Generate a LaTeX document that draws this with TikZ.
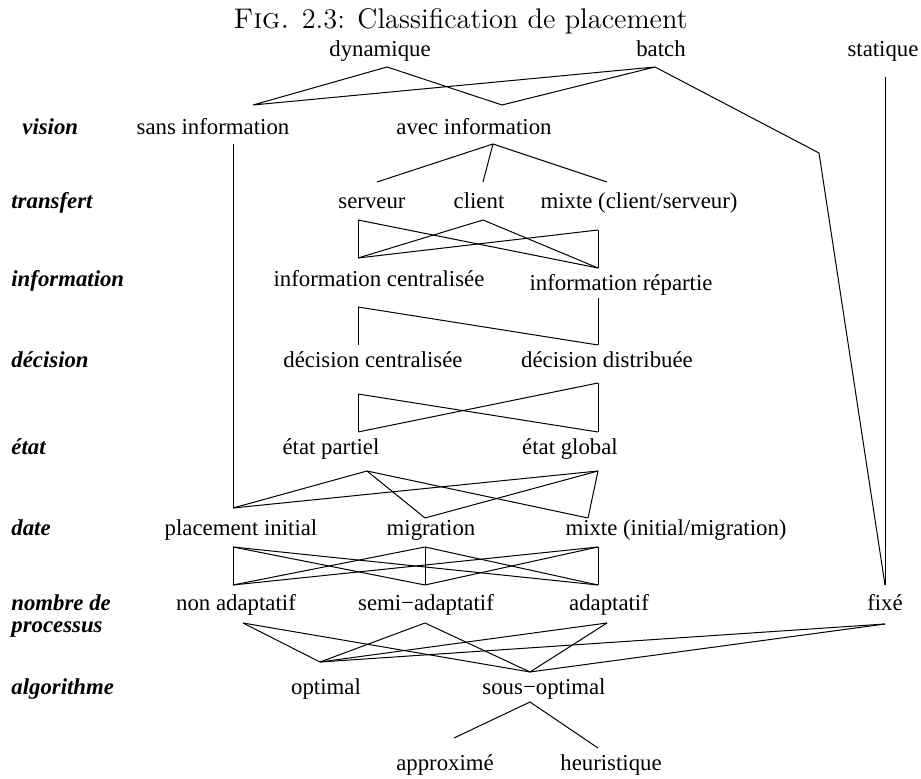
\documentclass[tikz,border=0pt]{standalone}
\usepackage{fontspec}
\newfontfamily\tms{Liberation Serif}
\tikzset{
 lbl/.style={font={\tms\fontsize{11.4}{13}\selectfont}, inner sep=0pt, anchor=base},
 cat/.style={font={\tms\bfseries\itshape\fontsize{11.4}{13}\selectfont}, inner sep=0pt, anchor=base west},
 ln/.style={line width=0.5pt, line join=miter}
}
\begin{document}
\begin{tikzpicture}[x=0.5pt,y=-0.5pt]
\path[use as bounding box] (0,0) rectangle (921,779);
\node[anchor=base, inner sep=0pt, font={\fontsize{14.2}{17}\selectfont}] (title) at (460.5,29) {\textsc{Fig.} 2.3: Classification de placement};
% category labels
\node[cat] (cvision) at (22,135) {vision};
\node[cat] (ctransfert) at (11,209) {transfert};
\node[cat] (cinfo) at (11,287) {information};
\node[cat] (cdecision) at (11,368) {décision};
\node[cat] (cetat) at (11,455) {état};
\node[cat] (cdate) at (11,536) {date};
\node[cat] (cnombre) at (11,611) {nombre de};
\node[cat] (cprocessus) at (11,633) {processus};
\node[cat] (calgo) at (11,695) {algorithme};
% items
\node[lbl] (dyn) at (380,57) {dynamique};
\node[lbl] (bat) at (661,57) {batch};
\node[lbl] (sta) at (883,57) {statique};
\node[lbl] (sans) at (213,135) {sans information};
\node[lbl] (avec) at (474,135) {avec information};
\node[lbl] (serv) at (372,209) {serveur};
\node[lbl] (cli) at (479,209) {client};
\node[lbl] (mixcs) at (639,209) {mixte (client/serveur)};
\node[lbl] (ic) at (379,287) {information centralisée};
\node[lbl] (ir) at (621,291) {information répartie};
\node[lbl] (dc) at (373,368) {décision centralisée};
\node[lbl] (dd) at (607,368) {décision distribuée};
\node[lbl] (ep) at (331,455) {état partiel};
\node[lbl] (eg) at (570,455) {état global};
\node[lbl] (pl) at (241,536) {placement initial};
\node[lbl] (mi) at (431,536) {migration};
\node[lbl] (mx) at (676,536) {mixte (initial/migration)};
\node[lbl] (na) at (236,611) {non adaptatif};
\node[lbl] (sa) at (426,611) {semi−adaptatif};
\node[lbl] (ad) at (609,611) {adaptatif};
\node[lbl] (fx) at (885,611) {fixé};
\node[lbl] (op) at (326,695) {optimal};
\node[lbl] (so) at (544,695) {sous−optimal};
\node[lbl] (ap) at (445,770) {approximé};
\node[lbl] (he) at (611,770) {heuristique};
% attachment points
\coordinate (dynB) at (387,67);
\coordinate (batB) at (655,67);
\coordinate (batK) at (819,153);
\coordinate (staB) at (885,77);
\coordinate (sansT) at (253,105);
\coordinate (avecT) at (502,105);
\coordinate (sansB) at (233,144);
\coordinate (avecB) at (493,144);
\coordinate (servT) at (377,182);
\coordinate (cliT) at (483,182);
\coordinate (mixT) at (607,182);
\coordinate (servB) at (358,220);
\coordinate (cliB) at (483,220);
\coordinate (mixB) at (598,230);
\coordinate (icT) at (358,258);
\coordinate (irT) at (598,268);
\coordinate (icB) at (358,307);
\coordinate (irB) at (598,298);
\coordinate (dcT) at (358,345);
\coordinate (ddT) at (598,345);
\coordinate (dcB) at (358,394);
\coordinate (ddB) at (598,383);
\coordinate (epT) at (358,432);
\coordinate (egT) at (598,432);
\coordinate (epB) at (367,471);
\coordinate (egB) at (598,471);
\coordinate (plT) at (233,508);
\coordinate (miT) at (425,518);
\coordinate (mxT) at (588,518);
\coordinate (plB) at (233,547);
\coordinate (miB) at (425,547);
\coordinate (mxB) at (598,547);
\coordinate (naT) at (233,585);
\coordinate (saT) at (425,585);
\coordinate (adT) at (598,585);
\coordinate (fxT) at (885,585);
\coordinate (naB) at (243,623);
\coordinate (saB) at (425,623);
\coordinate (adB) at (607,623);
\coordinate (fxB) at (885,624);
\coordinate (opT) at (320,662);
\coordinate (soT) at (530,672);
\coordinate (soB) at (530,702);
\coordinate (apT) at (454,738);
\coordinate (heT) at (598,748);
% connectors
\draw[ln] (sansT) -- (dynB) -- (avecT) -- (batB) -- (sansT);
\draw[ln] (batB) -- (batK) -- (fxT);
\draw[ln] (staB) -- (fxT);
\draw[ln] (sansB) -- (plT);
\draw[ln] (servT) -- (avecB) -- (mixT);
\draw[ln] (avecB) -- (cliT);
\draw[ln] (servB) -- (icT);
\draw[ln] (servB) -- (irT);
\draw[ln] (cliB) -- (icT);
\draw[ln] (cliB) -- (irT);
\draw[ln] (mixB) -- (icT);
\draw[ln] (mixB) -- (irT);
\draw[ln] (icB) -- (dcT);
\draw[ln] (icB) -- (ddT);
\draw[ln] (irB) -- (ddT);
\draw[ln] (dcB) -- (epT);
\draw[ln] (dcB) -- (egT);
\draw[ln] (ddB) -- (epT);
\draw[ln] (ddB) -- (egT);
\foreach \a in {epB,egB}{\foreach \b in {plT,miT,mxT}{\draw[ln] (\a) -- (\b);}}
\foreach \a in {plB,miB,mxB}{\foreach \b in {naT,saT,adT}{\draw[ln] (\a) -- (\b);}}
\foreach \a in {naB,saB,adB,fxB}{\foreach \b in {opT,soT}{\draw[ln] (\a) -- (\b);}}
\draw[ln] (apT) -- (soB) -- (heT);
\end{tikzpicture}
\end{document}
